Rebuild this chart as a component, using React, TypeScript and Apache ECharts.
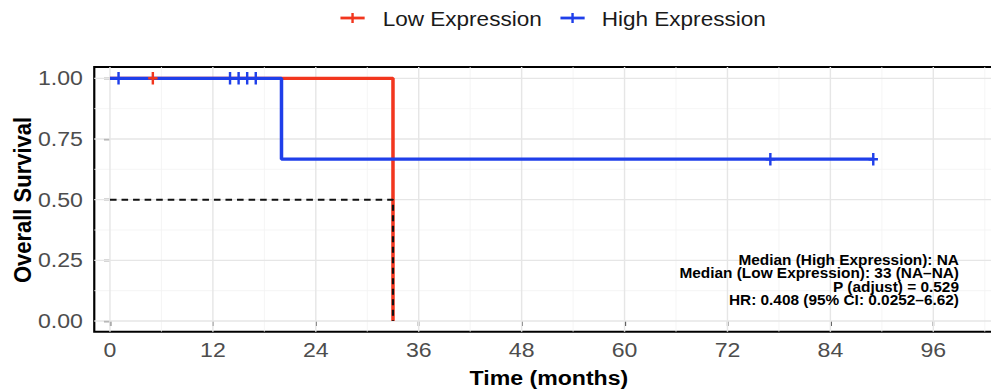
import React, { useEffect, useRef } from "react";
import * as echarts from "echarts";

// ---- data ----
const groupNames = ["Low Expression", "High Expression"];
const groupColors = ["#F2361E", "#1F3FEA"];

const lowTimes = [0, 33];
const lowSurv = [1, 0];
const highTimes = [0, 20, 89];
const highSurv = [1, 0.667, 0.667];

const lowCensorTimes = [5];
const lowCensorSurv = [1];
const highCensorTimes = [1, 14, 15, 16, 17, 77, 89];
const highCensorSurv = [1, 1, 1, 1, 1, 0.667, 0.667];

const medianX = [0, 33, 33];
const medianY = [0.5, 0.5, 0];

const xTicks = [0, 12, 24, 36, 48, 60, 72, 84, 96];
const xMinorTicks = [6, 18, 30, 42, 54, 66, 78, 90, 102];
const yTicks = [0, 0.25, 0.5, 0.75, 1];
const yMinorTicks = [0.125, 0.375, 0.625, 0.875];

const annotationLines = [
  "Median (High Expression): NA",
  "Median (Low Expression): 33 (NA\u2013NA)",
  "P (adjust) = 0.529",
  "HR: 0.408 (95% CI: 0.0252\u20136.62)",
];

const xTitle = "Time (months)";
const yTitle = "Overall Survival";

// ---- layout ----
const SX = 1.1;
const W = 930;
const H = 392;
const X_MIN = -1.83;
const X_MAX = 104.24;
const Y_MIN = -0.044;
const Y_MAX = 1.0466;
const FONT = "'Liberation Sans', Arial, Helvetica, sans-serif";

const plusPath = "path://M0,4.8 L10,4.8 L10,7.2 L0,7.2 Z M3.7,0 L6.3,0 L6.3,12 L3.7,12 Z";

function vGrid(color: string, width: number) {
  return (params: any, api: any) => {
    const v = api.value(0);
    const p1 = api.coord([v, Y_MIN]);
    const p2 = api.coord([v, Y_MAX]);
    return {
      type: "line",
      shape: { x1: p1[0], y1: p1[1], x2: p2[0], y2: p2[1] },
      style: { stroke: color, lineWidth: width },
    };
  };
}
function hGrid(color: string, width: number) {
  return (params: any, api: any) => {
    const v = api.value(1);
    const p1 = api.coord([X_MIN, v]);
    const p2 = api.coord([X_MAX, v]);
    return {
      type: "line",
      shape: { x1: p1[0], y1: p1[1], x2: p2[0], y2: p2[1] },
      style: { stroke: color, lineWidth: width },
    };
  };
}

function legendItem(cx: number, textX: number, color: string, label: string) {
  return [
    {
      type: "line",
      shape: { x1: cx - 11, y1: 18, x2: cx + 11, y2: 18 },
      style: { stroke: color, lineWidth: 2.8 },
    },
    {
      type: "line",
      shape: { x1: cx, y1: 13, x2: cx, y2: 23 },
      style: { stroke: color, lineWidth: 2.2 },
    },
    {
      type: "text",
      x: textX,
      y: 19.5,
      style: {
        text: label,
        fontSize: 20.5,
        fontFamily: FONT,
        fill: "#1a1a1a",
        textAlign: "left",
        textVerticalAlign: "middle",
      },
    },
  ];
}

export default function App() {
  const ref = useRef<HTMLDivElement>(null);

  useEffect(() => {
    if (!ref.current) return;
    const chart = echarts.init(ref.current, null, { renderer: "svg", width: W, height: H });

    const option: any = {
      animation: false,
      backgroundColor: "#ffffff",
      grid: {
        left: 85.7,
        top: 67,
        width: 827,
        height: 264.7,
        show: true,
        borderColor: "#000000",
        borderWidth: 2,
        backgroundColor: "transparent",
      },
      xAxis: {
        type: "value",
        min: X_MIN,
        max: X_MAX,
        axisLine: { show: false },
        splitLine: { show: false },
        axisTick: {
          show: true,
          customValues: xTicks,
          length: 5,
          lineStyle: { color: "#333333", width: 1.4 },
        },
        axisLabel: {
          show: true,
          customValues: xTicks,
          margin: 8,
          fontSize: 21,
          color: "#4D4D4D",
          fontFamily: FONT,
        },
      },
      yAxis: {
        type: "value",
        min: Y_MIN,
        max: Y_MAX,
        axisLine: { show: false },
        splitLine: { show: false },
        axisTick: {
          show: true,
          customValues: yTicks,
          length: 5.5,
          lineStyle: { color: "#333333", width: 1.4 },
        },
        axisLabel: {
          show: true,
          customValues: yTicks,
          margin: 10.3,
          fontSize: 21,
          color: "#4D4D4D",
          fontFamily: FONT,
          formatter: (v: number) => v.toFixed(2),
        },
      },
      series: [
        {
          type: "custom",
          silent: true,
          z: 1,
          data: xMinorTicks.map((v) => [v, 0]),
          renderItem: vGrid("#F3F3F3", 0.8),
        },
        {
          type: "custom",
          silent: true,
          z: 1,
          data: yMinorTicks.map((v) => [0, v]),
          renderItem: hGrid("#F3F3F3", 0.8),
        },
        {
          type: "custom",
          silent: true,
          z: 1,
          data: xTicks.map((v) => [v, 0]),
          renderItem: vGrid("#E6E6E6", 1.3),
        },
        {
          type: "custom",
          silent: true,
          z: 1,
          data: yTicks.map((v) => [0, v]),
          renderItem: hGrid("#E6E6E6", 1.3),
        },
        {
          type: "line",
          name: groupNames[0],
          step: "end",
          showSymbol: false,
          z: 3,
          data: lowTimes.map((t, i) => [t, lowSurv[i]]),
          lineStyle: { color: groupColors[0], width: 3.2 },
          itemStyle: { color: groupColors[0] },
        },
        {
          type: "line",
          name: groupNames[1],
          step: "end",
          showSymbol: false,
          z: 4,
          data: highTimes.map((t, i) => [t, highSurv[i]]),
          lineStyle: { color: groupColors[1], width: 3.2 },
          itemStyle: { color: groupColors[1] },
        },
        {
          type: "line",
          name: "median",
          showSymbol: false,
          z: 5,
          data: medianX.map((x, i) => [x, medianY[i]]),
          lineStyle: { color: "#111111", width: 2, type: [6, 4.5] },
        },
        {
          type: "scatter",
          name: groupNames[0] + " censor",
          z: 6,
          symbol: plusPath,
          symbolSize: [8.5, 12.5],
          data: lowCensorTimes.map((t, i) => [t, lowCensorSurv[i]]),
          itemStyle: { color: groupColors[0], opacity: 1 },
        },
        {
          type: "scatter",
          name: groupNames[1] + " censor",
          z: 7,
          symbol: plusPath,
          symbolSize: [8.5, 12.5],
          data: highCensorTimes.map((t, i) => [t, highCensorSurv[i]]),
          itemStyle: { color: groupColors[1], opacity: 1 },
        },
      ],
      graphic: [
        ...legendItem(320.5, 347.9, groupColors[0], groupNames[0]),
        ...legendItem(520.5, 547, groupColors[1], groupNames[1]),
        {
          type: "text",
          x: 499,
          y: 378,
          style: {
            text: xTitle,
            fontSize: 21,
            fontWeight: "bold",
            fontFamily: FONT,
            fill: "#000000",
            textAlign: "center",
            textVerticalAlign: "middle",
          },
        },
        {
          type: "text",
          x: 20.5,
          y: 200,
          rotation: Math.PI / 2,
          style: {
            text: yTitle,
            fontSize: 22,
            fontWeight: "bold",
            fontFamily: FONT,
            fill: "#000000",
            textAlign: "center",
            textVerticalAlign: "middle",
          },
        },
        {
          type: "text",
          x: 871.8,
          y: 280,
          z: 100,
          style: {
            text: annotationLines.join("\n"),
            fontSize: 14,
            lineHeight: 13.5,
            fontWeight: "bold",
            fontFamily: FONT,
            fill: "#000000",
            textAlign: "right",
            textVerticalAlign: "middle",
          },
        },
      ],
    };

    chart.setOption(option);
    return () => chart.dispose();
  }, []);

  return (
    <div
      style={{
        position: "fixed",
        left: 0,
        top: 0,
        width: 991,
        height: 392,
        overflow: "hidden",
        background: "#ffffff",
      }}
    >
      <div
        ref={ref}
        style={{
          width: W,
          height: H,
          transform: `scaleX(${SX})`,
          transformOrigin: "0 0",
        }}
      />
    </div>
  );
}
